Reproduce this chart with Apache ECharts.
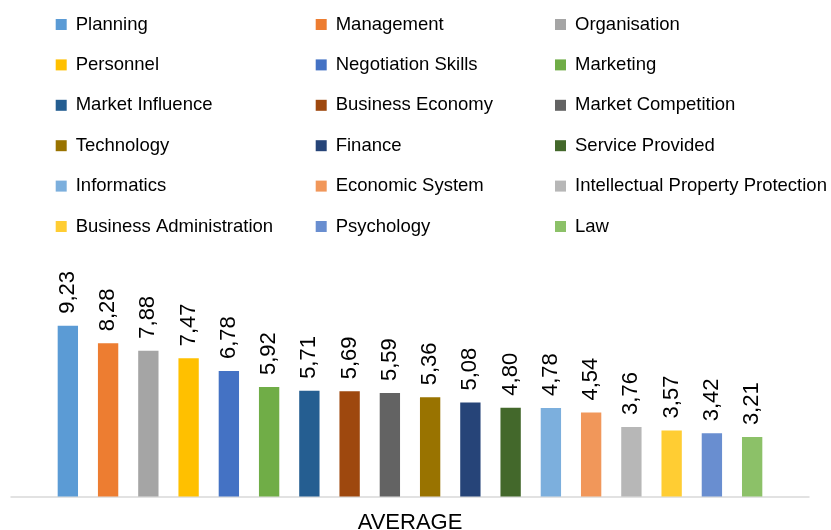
<!DOCTYPE html>
<html>
<head>
<meta charset="utf-8">
<title>Average</title>
<script src="https://cdn.jsdelivr.net/npm/echarts@6/dist/echarts.min.js"></script>
<style>
  html, body { margin: 0; padding: 0; background: #fff; }
  #chart { width: 831px; height: 530px; }
</style>
</head>
<body>
<div id="chart"></div>
<script>
// data
var categories = ['AVERAGE'];
var names = [
  'Planning', 'Management', 'Organisation',
  'Personnel', 'Negotiation Skills', 'Marketing',
  'Market Influence', 'Business Economy', 'Market Competition',
  'Technology', 'Finance', 'Service Provided',
  'Informatics', 'Economic System', 'Intellectual Property Protection',
  'Business Administration', 'Psychology', 'Law'
];
var values = [9.23, 8.28, 7.88, 7.47, 6.78, 5.92, 5.71, 5.69, 5.59, 5.36, 5.08, 4.80, 4.78, 4.54, 3.76, 3.57, 3.42, 3.21];
var colors = [
  '#5B9BD5', '#ED7D31', '#A5A5A5',
  '#FFC000', '#4472C4', '#70AD47',
  '#255E91', '#9E480E', '#636363',
  '#997300', '#264478', '#43682B',
  '#7CAFDD', '#F1975A', '#B7B7B7',
  '#FFCD33', '#698ED0', '#8CC168'
];

var font = 'Liberation Sans, Arial, sans-serif';
var chart = echarts.init(document.getElementById('chart'));

// one series per item, all in the single "AVERAGE" category
var series = names.map(function (name, i) {
  return {
    name: name,
    type: 'bar',
    barGap: '98%',
    barCategoryGap: '11.7%',
    itemStyle: { color: colors[i] },
    label: {
      show: true,
      position: 'top',
      distance: 12,
      rotate: 90,
      align: 'left',
      verticalAlign: 'middle',
      fontFamily: font,
      fontSize: 22,
      color: '#000',
      formatter: function (p) {
        return p.value.toFixed(2).replace('.', ',');
      }
    },
    data: [values[i]]
  };
});

// legend in three columns
var legendX = [55.7, 315.7, 555];
var legends = legendX.map(function (x, col) {
  return {
    orient: 'vertical',
    left: x,
    top: 15,
    padding: 0,
    itemGap: 21.4,
    itemWidth: 11,
    itemHeight: 11,
    icon: 'rect',
    selectedMode: false,
    textStyle: { fontFamily: font, fontSize: 18.5, color: '#000', padding: [0, 0, 0, 4] },
    data: names.filter(function (n, i) { return i % 3 === col; })
  };
});

var option = {
  animation: false,
  legend: legends,
  grid: { left: 11, right: 22, top: 311.5, bottom: 33.5, outerBoundsMode: 'none' },
  xAxis: {
    type: 'category',
    data: categories,
    axisLine: { lineStyle: { color: '#D9D9D9', width: 1.5 } },
    axisTick: { show: false },
    axisLabel: { fontFamily: font, fontSize: 22, color: '#000', margin: 15 }
  },
  yAxis: {
    type: 'value',
    min: 0,
    max: 10,
    show: false,
    splitLine: { show: false }
  },
  series: series
};

chart.setOption(option);
</script>
</body>
</html>
